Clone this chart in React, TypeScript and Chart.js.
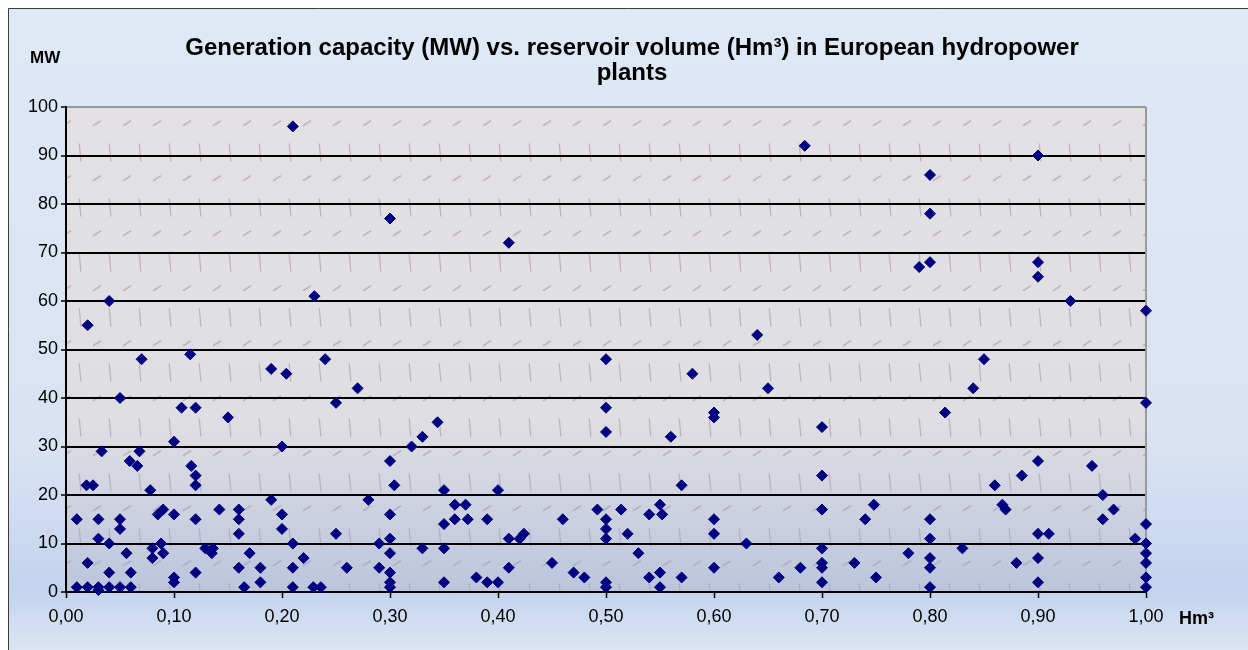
import React, { useEffect, useRef } from 'react';
import { Chart, registerables } from 'chart.js';

Chart.register(...registerables);

// ---- Data (reservoir volume in Hm³, generation capacity in MW) ----
const outlierVolume = [0.21, 0.04, 0.02, 0.30, 0.41, 0.23, 0.64, 0.684, 0.80, 0.80, 0.80, 0.79, 0.90, 0.90, 0.90, 0.93, 1.00];
const outlierCapacity = [96, 60, 55, 77, 72, 61, 53, 92, 86, 78, 68, 67, 90, 68, 65, 60, 58];

const volumeA = [
  0.07, 0.115, 0.19, 0.204, 0.05, 0.107, 0.12, 0.15, 0.10, 0.20, 0.033, 0.068, 0.059, 0.066, 0.116, 0.12,
  0.12, 0.019, 0.025, 0.078, 0.19, 0.142, 0.09, 0.085, 0.10, 0.16, 0.16, 0.20, 0.01, 0.03, 0.05, 0.12,
  0.05, 0.16, 0.20, 0.03, 0.04, 0.08, 0.088, 0.09, 0.08, 0.056, 0.129, 0.136, 0.135, 0.17, 0.21, 0.22,
  0.02, 0.04, 0.06, 0.12, 0.16, 0.18, 0.21, 0.10, 0.10, 0.18, 0.01, 0.02, 0.03, 0.04, 0.05, 0.06,
  0.165, 0.21, 0.03,
];
const capacityA = [
  48, 49, 46, 45, 40, 38, 38, 36, 31, 30, 29, 29, 27, 26, 26, 24,
  22, 22, 22, 21, 19, 17, 17, 16, 16, 17, 15, 16, 15, 15, 15, 15,
  13, 12, 13, 11, 10, 9, 10, 8, 7, 8, 9, 9, 8, 8, 10, 7,
  6, 4, 4, 4, 5, 5, 5, 3, 2, 2, 1, 1, 1, 1, 1, 1,
  1, 1, 0.4,
];

const volumeB = [
  0.24, 0.27, 0.25, 0.344, 0.33, 0.32, 0.30, 0.304, 0.35, 0.40, 0.28, 0.36, 0.37, 0.30, 0.36, 0.372,
  0.39, 0.35, 0.25, 0.30, 0.29, 0.41, 0.42, 0.424, 0.33, 0.35, 0.30, 0.26, 0.29, 0.41, 0.30, 0.30,
  0.30, 0.35, 0.38, 0.39, 0.40, 0.229, 0.236,
];
const capacityB = [
  48, 42, 39, 35, 32, 30, 27, 22, 21, 21, 19, 18, 18, 16, 15, 15,
  15, 14, 12, 11, 10, 11, 11, 12, 9, 9, 8, 5, 5, 5, 4, 2,
  1, 2, 3, 2, 2, 1, 1,
];

const volumeC = [
  0.50, 0.58, 0.65, 0.50, 0.60, 0.60, 0.50, 0.56, 0.57, 0.492, 0.514, 0.55, 0.54, 0.552, 0.46, 0.50,
  0.50, 0.50, 0.60, 0.60, 0.52, 0.63, 0.53, 0.45, 0.47, 0.48, 0.54, 0.55, 0.57, 0.60, 0.66, 0.50,
  0.50, 0.55,
];
const capacityC = [
  48, 45, 42, 38, 37, 36, 33, 32, 22, 17, 17, 18, 16, 16, 15, 15,
  13, 11, 15, 12, 12, 10, 8, 6, 4, 3, 3, 4, 3, 5, 3, 2,
  1, 1,
];

const volumeD = [
  0.85, 0.84, 0.814, 0.70, 0.70, 0.885, 0.86, 0.867, 0.87, 0.748, 0.70, 0.74, 0.80, 0.80, 0.70, 0.78,
  0.83, 0.80, 0.70, 0.70, 0.68, 0.73, 0.80, 0.88, 0.75, 0.70, 0.80,
];
const capacityD = [
  48, 42, 37, 34, 24, 24, 22, 18, 17, 18, 17, 15, 15, 11, 9, 8,
  9, 7, 6, 5, 5, 6, 5, 6, 3, 2, 1,
];

const volumeE = [0.90, 0.90, 0.91, 0.90, 0.90, 0.95, 0.96, 0.96, 0.97, 0.99, 1.00, 1.00, 1.00, 1.00, 1.00, 1.00, 1.00];
const capacityE = [27, 12, 12, 7, 2, 26, 20, 15, 17, 11, 39, 14, 10, 8, 6, 3, 1];

const titleLines = ['Generation capacity (MW) vs. reservoir volume (Hm³) in European hydropower', 'plants'];
const yAxisTitle = 'MW';
const xAxisTitle = 'Hm³';
const X_MIN = 0;
const X_MAX = 1;
const X_STEP = 0.1;
const Y_MIN = 0;
const Y_MAX = 100;
const Y_STEP = 10;

const FONT = '"Liberation Sans", Arial, Helvetica, sans-serif';

function buildPoints() {
  const groups: [number[], number[]][] = [
    [outlierVolume, outlierCapacity],
    [volumeA, capacityA],
    [volumeB, capacityB],
    [volumeC, capacityC],
    [volumeD, capacityD],
    [volumeE, capacityE],
  ];
  const pts: { x: number; y: number }[] = [];
  for (const [xs, ys] of groups) {
    for (let i = 0; i < xs.length; i++) pts.push({ x: xs[i], y: ys[i] });
  }
  return pts;
}

function makePatternTile(): HTMLCanvasElement {
  const t = document.createElement('canvas');
  t.width = 30;
  t.height = 55;
  const c = t.getContext('2d')!;
  c.strokeStyle = 'rgba(180,160,172,0.7)';
  c.lineWidth = 1.5;
  c.lineCap = 'round';
  c.beginPath();
  c.moveTo(11.5, 18.5);
  c.lineTo(18.5, 14);
  c.stroke();
  c.lineWidth = 1.3;
  c.beginPath();
  c.moveTo(27.3, 37);
  c.lineTo(28.8, 54);
  c.stroke();
  return t;
}

const decorPlugin = {
  id: 'decor',
  beforeDraw(chart: any) {
    const { ctx, chartArea: a, width, height } = chart;
    ctx.save();
    ctx.fillStyle = '#ffffff';
    ctx.fillRect(0, 0, width, height);
    const g = ctx.createLinearGradient(0, 8, 0, height);
    g.addColorStop(0, '#dfe8f5');
    g.addColorStop(0.68, '#d9e3f3');
    g.addColorStop(0.905, '#c3d3ee');
    g.addColorStop(1, '#dce5f3');
    ctx.fillStyle = g;
    ctx.fillRect(8, 8, width - 8, height - 8);
    ctx.strokeStyle = '#3c3c3c';
    ctx.lineWidth = 1;
    ctx.beginPath();
    ctx.moveTo(8.5, height);
    ctx.lineTo(8.5, 8.5);
    ctx.lineTo(width, 8.5);
    ctx.stroke();

    // plot area
    const w = a.right - a.left;
    const h = a.bottom - a.top;
    ctx.fillStyle = '#e3e1e3';
    ctx.fillRect(a.left, a.top, w, h);
    const tile = makePatternTile();
    const pat = ctx.createPattern(tile, 'repeat');
    if (pat) {
      try {
        pat.setTransform(new DOMMatrix().translate(a.left - 14, a.top));
      } catch (e) {}
      ctx.fillStyle = pat;
      ctx.fillRect(a.left, a.top, w, h);
    }
    const g2 = ctx.createLinearGradient(0, a.top, 0, a.bottom);
    g2.addColorStop(0, 'rgba(150,170,215,0)');
    g2.addColorStop(0.65, 'rgba(150,170,215,0.06)');
    g2.addColorStop(1, 'rgba(140,162,212,0.45)');
    ctx.fillStyle = g2;
    ctx.fillRect(a.left, a.top, w, h);
    ctx.restore();
  },
  beforeDatasetsDraw(chart: any) {
    const { ctx, chartArea: a } = chart;
    ctx.save();
    ctx.strokeStyle = '#9a9a9a';
    ctx.lineWidth = 2;
    ctx.beginPath();
    ctx.moveTo(a.right, a.top);
    ctx.lineTo(a.right, a.bottom - 1);
    ctx.stroke();
    ctx.restore();
  },
  afterDraw(chart: any) {
    const { ctx } = chart;
    ctx.save();
    ctx.fillStyle = '#000';
    ctx.textBaseline = 'alphabetic';
    ctx.textAlign = 'center';
    ctx.font = `bold 24px ${FONT}`;
    ctx.fillText(titleLines[0], 632, 55);
    ctx.fillText(titleLines[1], 632, 80);
    ctx.textAlign = 'left';
    ctx.font = `bold 17px ${FONT}`;
    ctx.fillText(yAxisTitle, 30, 63);
    ctx.font = `bold 18px ${FONT}`;
    ctx.fillText(xAxisTitle, 1179, 624);
    ctx.restore();
  },
};

export default function App() {
  const ref = useRef<HTMLCanvasElement | null>(null);

  useEffect(() => {
    if (!ref.current) return;
    const chart = new Chart(ref.current, {
      type: 'scatter',
      data: {
        datasets: [
          {
            data: buildPoints(),
            pointStyle: 'rectRot',
            pointRadius: 5.5,
            pointHoverRadius: 5.5,
            backgroundColor: '#000080',
            borderColor: '#000080',
            borderWidth: 1,
            clip: false as any,
          },
        ],
      },
      options: {
        animation: false,
        responsive: false,
        maintainAspectRatio: false,
        devicePixelRatio: 1,
        layout: { padding: { left: 0, top: 107, right: 102, bottom: 0 } },
        plugins: {
          legend: { display: false },
          tooltip: { enabled: false },
          title: { display: false },
        },
        scales: {
          x: {
            type: 'linear',
            min: X_MIN,
            max: X_MAX,
            afterFit: (s: any) => {
              s.height = 58;
            },
            ticks: {
              stepSize: X_STEP,
              autoSkip: false,
              maxRotation: 0,
              padding: 8,
              color: '#000',
              font: { family: FONT, size: 18 },
              callback: (v: any) => Number(v).toFixed(2).replace('.', ','),
            },
            grid: {
              drawOnChartArea: false,
              drawTicks: true,
              tickLength: 6,
              tickColor: '#000',
              tickWidth: 1.5,
            },
            border: { display: true, color: '#000', width: 2 },
          },
          y: {
            type: 'linear',
            min: Y_MIN,
            max: Y_MAX,
            afterFit: (s: any) => {
              s.width = 66;
            },
            ticks: {
              stepSize: Y_STEP,
              padding: 3,
              color: '#000',
              font: { family: FONT, size: 18 },
            },
            grid: {
              color: (c: any) => (c.tick && c.tick.value === Y_MAX ? '#9a9a9a' : '#000'),
              lineWidth: 2,
              drawTicks: true,
              tickLength: 5,
              tickColor: '#000',
              tickWidth: 1.5,
            },
            border: { display: true, color: '#000', width: 2 },
          },
        },
      },
      plugins: [decorPlugin],
    });
    return () => chart.destroy();
  }, []);

  return (
    <canvas
      ref={ref}
      width={1248}
      height={650}
      style={{ position: 'fixed', left: 0, top: 0, width: 1248, height: 650, display: 'block' }}
    />
  );
}
